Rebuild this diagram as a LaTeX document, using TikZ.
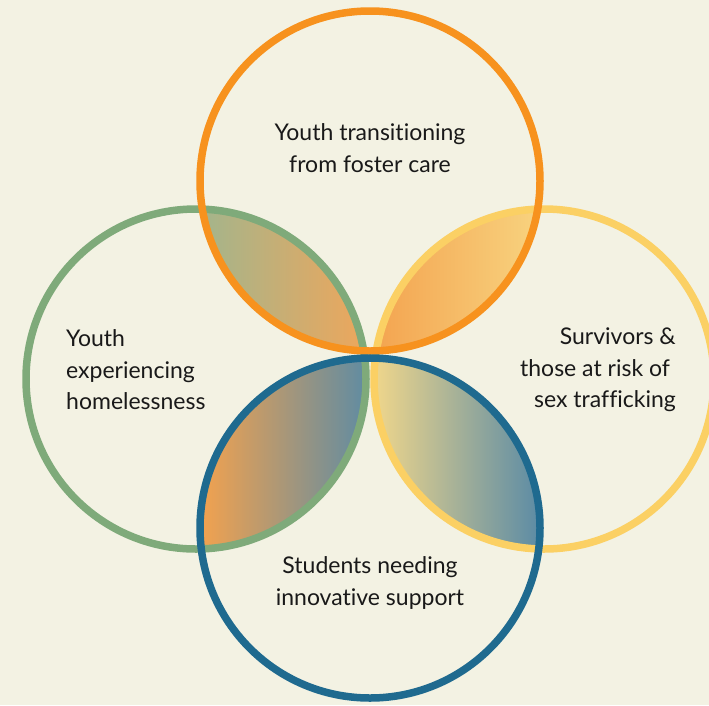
\documentclass[tikz,border=0pt]{standalone}
\usepackage{fontspec}
\setmainfont{Lato}[Ligatures={NoCommon,NoRare,NoDiscretionary}]
\definecolor{bg}{HTML}{F3F2E3}
\definecolor{cOrange}{HTML}{F7921E}
\definecolor{cGreen}{HTML}{7FAA7A}
\definecolor{cYellow}{HTML}{FBD064}
\definecolor{cBlue}{HTML}{1F6A8F}
\definecolor{gGreen}{HTML}{A3B58C}
\definecolor{gOrange}{HTML}{F0A65A}
\definecolor{gOrangeB}{HTML}{F3A24E}
\definecolor{gYellow}{HTML}{F8D37F}
\definecolor{gYellowB}{HTML}{F5D98A}
\definecolor{gBlue}{HTML}{5B8BA5}
\tikzset{
  ring/.style={line width=7.5pt},
  lbl/.style={font=\fontsize{23}{31.5}\selectfont, text=black!90, inner sep=0pt},
}
\begin{document}
\begin{tikzpicture}[x=1pt,y=-1pt]
\useasboundingbox (0,0) rectangle (709,705);
\fill[bg] (0,0) rectangle (709,705);
\coordinate (T) at (370,181);
\coordinate (L) at (196,379);
\coordinate (R) at (544,379);
\coordinate (B) at (370,528);
% lenses
\begin{scope}
  \clip (T) circle (170);
  \clip (L) circle (170);
  \shade[left color=gGreen, right color=gOrange] (200,195) rectangle (372,365);
\end{scope}
\begin{scope}
  \clip (T) circle (170);
  \clip (R) circle (170);
  \shade[left color=gOrangeB, right color=gYellow] (368,195) rectangle (540,365);
\end{scope}
\begin{scope}
  \clip (B) circle (170);
  \clip (L) circle (170);
  \shade[left color=gOrangeB, right color=gBlue] (200,345) rectangle (372,555);
\end{scope}
\begin{scope}
  \clip (B) circle (170);
  \clip (R) circle (170);
  \shade[left color=gYellowB, right color=gBlue] (368,345) rectangle (540,555);
\end{scope}
% rings
\draw[ring, cGreen] (L) circle (170);
\draw[ring, cYellow] (R) circle (170);
\draw[ring, cOrange] (T) circle (170);
\draw[ring, cBlue] (B) circle (170);
% labels
\node[lbl, align=center] (tl) at (370,148) {Youth transitioning\\from foster care};
\node[lbl, align=left, anchor=west] (ll) at (66,370) {Youth\\experiencing\\homelessness};
\node[lbl, align=right, anchor=east] (rl) at (676,370) {Survivors \&\\those at risk of\phantom{\ }\\sex trafficking};
\node[lbl, align=center] (bl) at (370,583) {Students needing\\innovative support};
\end{tikzpicture}
\end{document}
